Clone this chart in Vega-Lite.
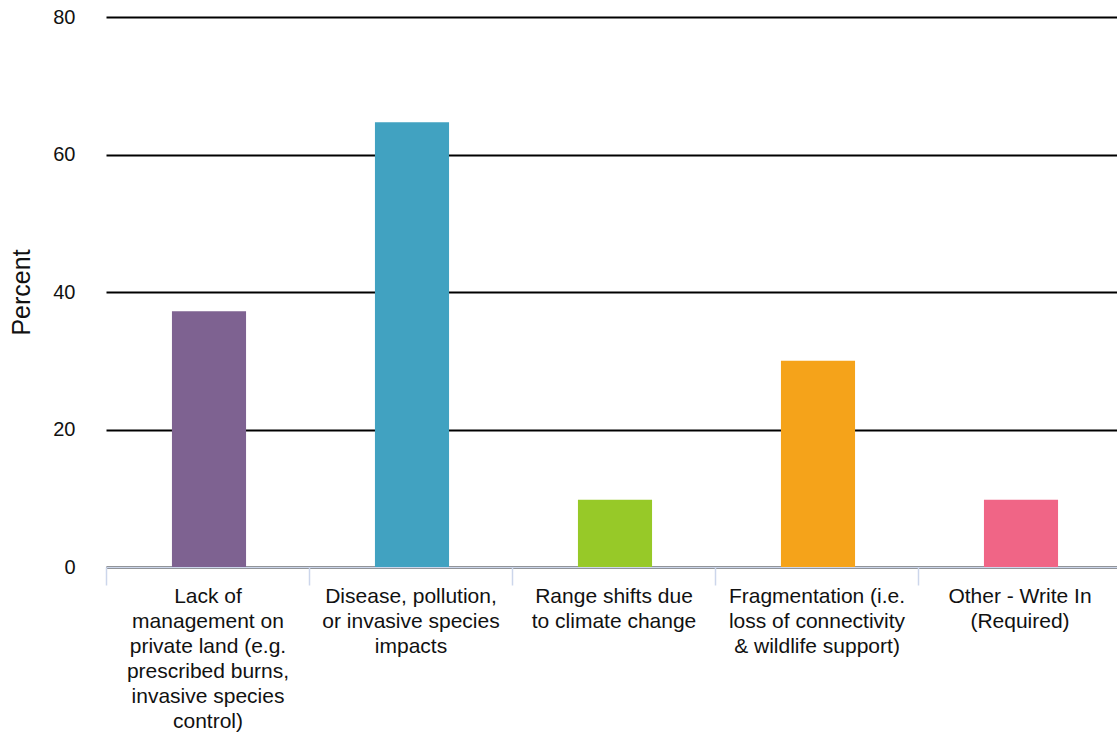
{
  "$schema": "https://vega.github.io/schema/vega-lite/v6.json",
  "autosize": "none",
  "padding": {"left": 106, "top": 17, "right": 0, "bottom": 177},
  "width": 1015,
  "height": 550,
  "background": "white",
  "config": {"view": {"stroke": null}, "font": "Liberation Sans"},
  "data": {"values": [
    {"cat": "Lack of|management on|private land (e.g.|prescribed burns,|invasive species|control)", "pct": 37.2, "color": "#7e6291"},
    {"cat": "Disease, pollution,|or invasive species|impacts", "pct": 64.7, "color": "#41a2c1"},
    {"cat": "Range shifts due|to climate change", "pct": 9.8, "color": "#97c928"},
    {"cat": "Fragmentation (i.e.|loss of connectivity|& wildlife support)", "pct": 30.0, "color": "#f5a31a"},
    {"cat": "Other - Write In|(Required)", "pct": 9.8, "color": "#f06586"}
  ]},
  "mark": {"type": "bar", "width": {"band": 0.365}, "xOffset": 1.5},
  "encoding": {
    "x": {"field": "cat", "type": "nominal", "sort": null,
      "scale": {"paddingInner": 0, "paddingOuter": 0},
      "axis": {"title": null, "labelAngle": 0, "labelExpr": "split(datum.label, '|')",
        "labelFontSize": 21, "labelColor": "#111", "labelLineHeight": 25, "labelPadding": 0,
        "labelLimit": 300,
        "domainColor": "#ccd6eb", "tickColor": "#ccd6eb", "tickSize": 18, "tickWidth": 1.5, "tickBand": "extent", "domainWidth": 1.5}},
    "y": {"field": "pct", "type": "quantitative",
      "scale": {"domain": [0, 80], "nice": false},
      "axis": {"title": "Percent", "titleFontSize": 25, "titleFontWeight": "normal", "titleColor": "#111", "titlePadding": 18,
        "values": [0, 20, 40, 60, 80], "labelFontSize": 20, "labelColor": "#111", "labelPadding": 31,
        "domain": false, "ticks": false, "gridColor": "#000", "gridWidth": 2, "gridOpacity": 1}},
    "color": {"field": "color", "type": "nominal", "scale": null}
  }
}
